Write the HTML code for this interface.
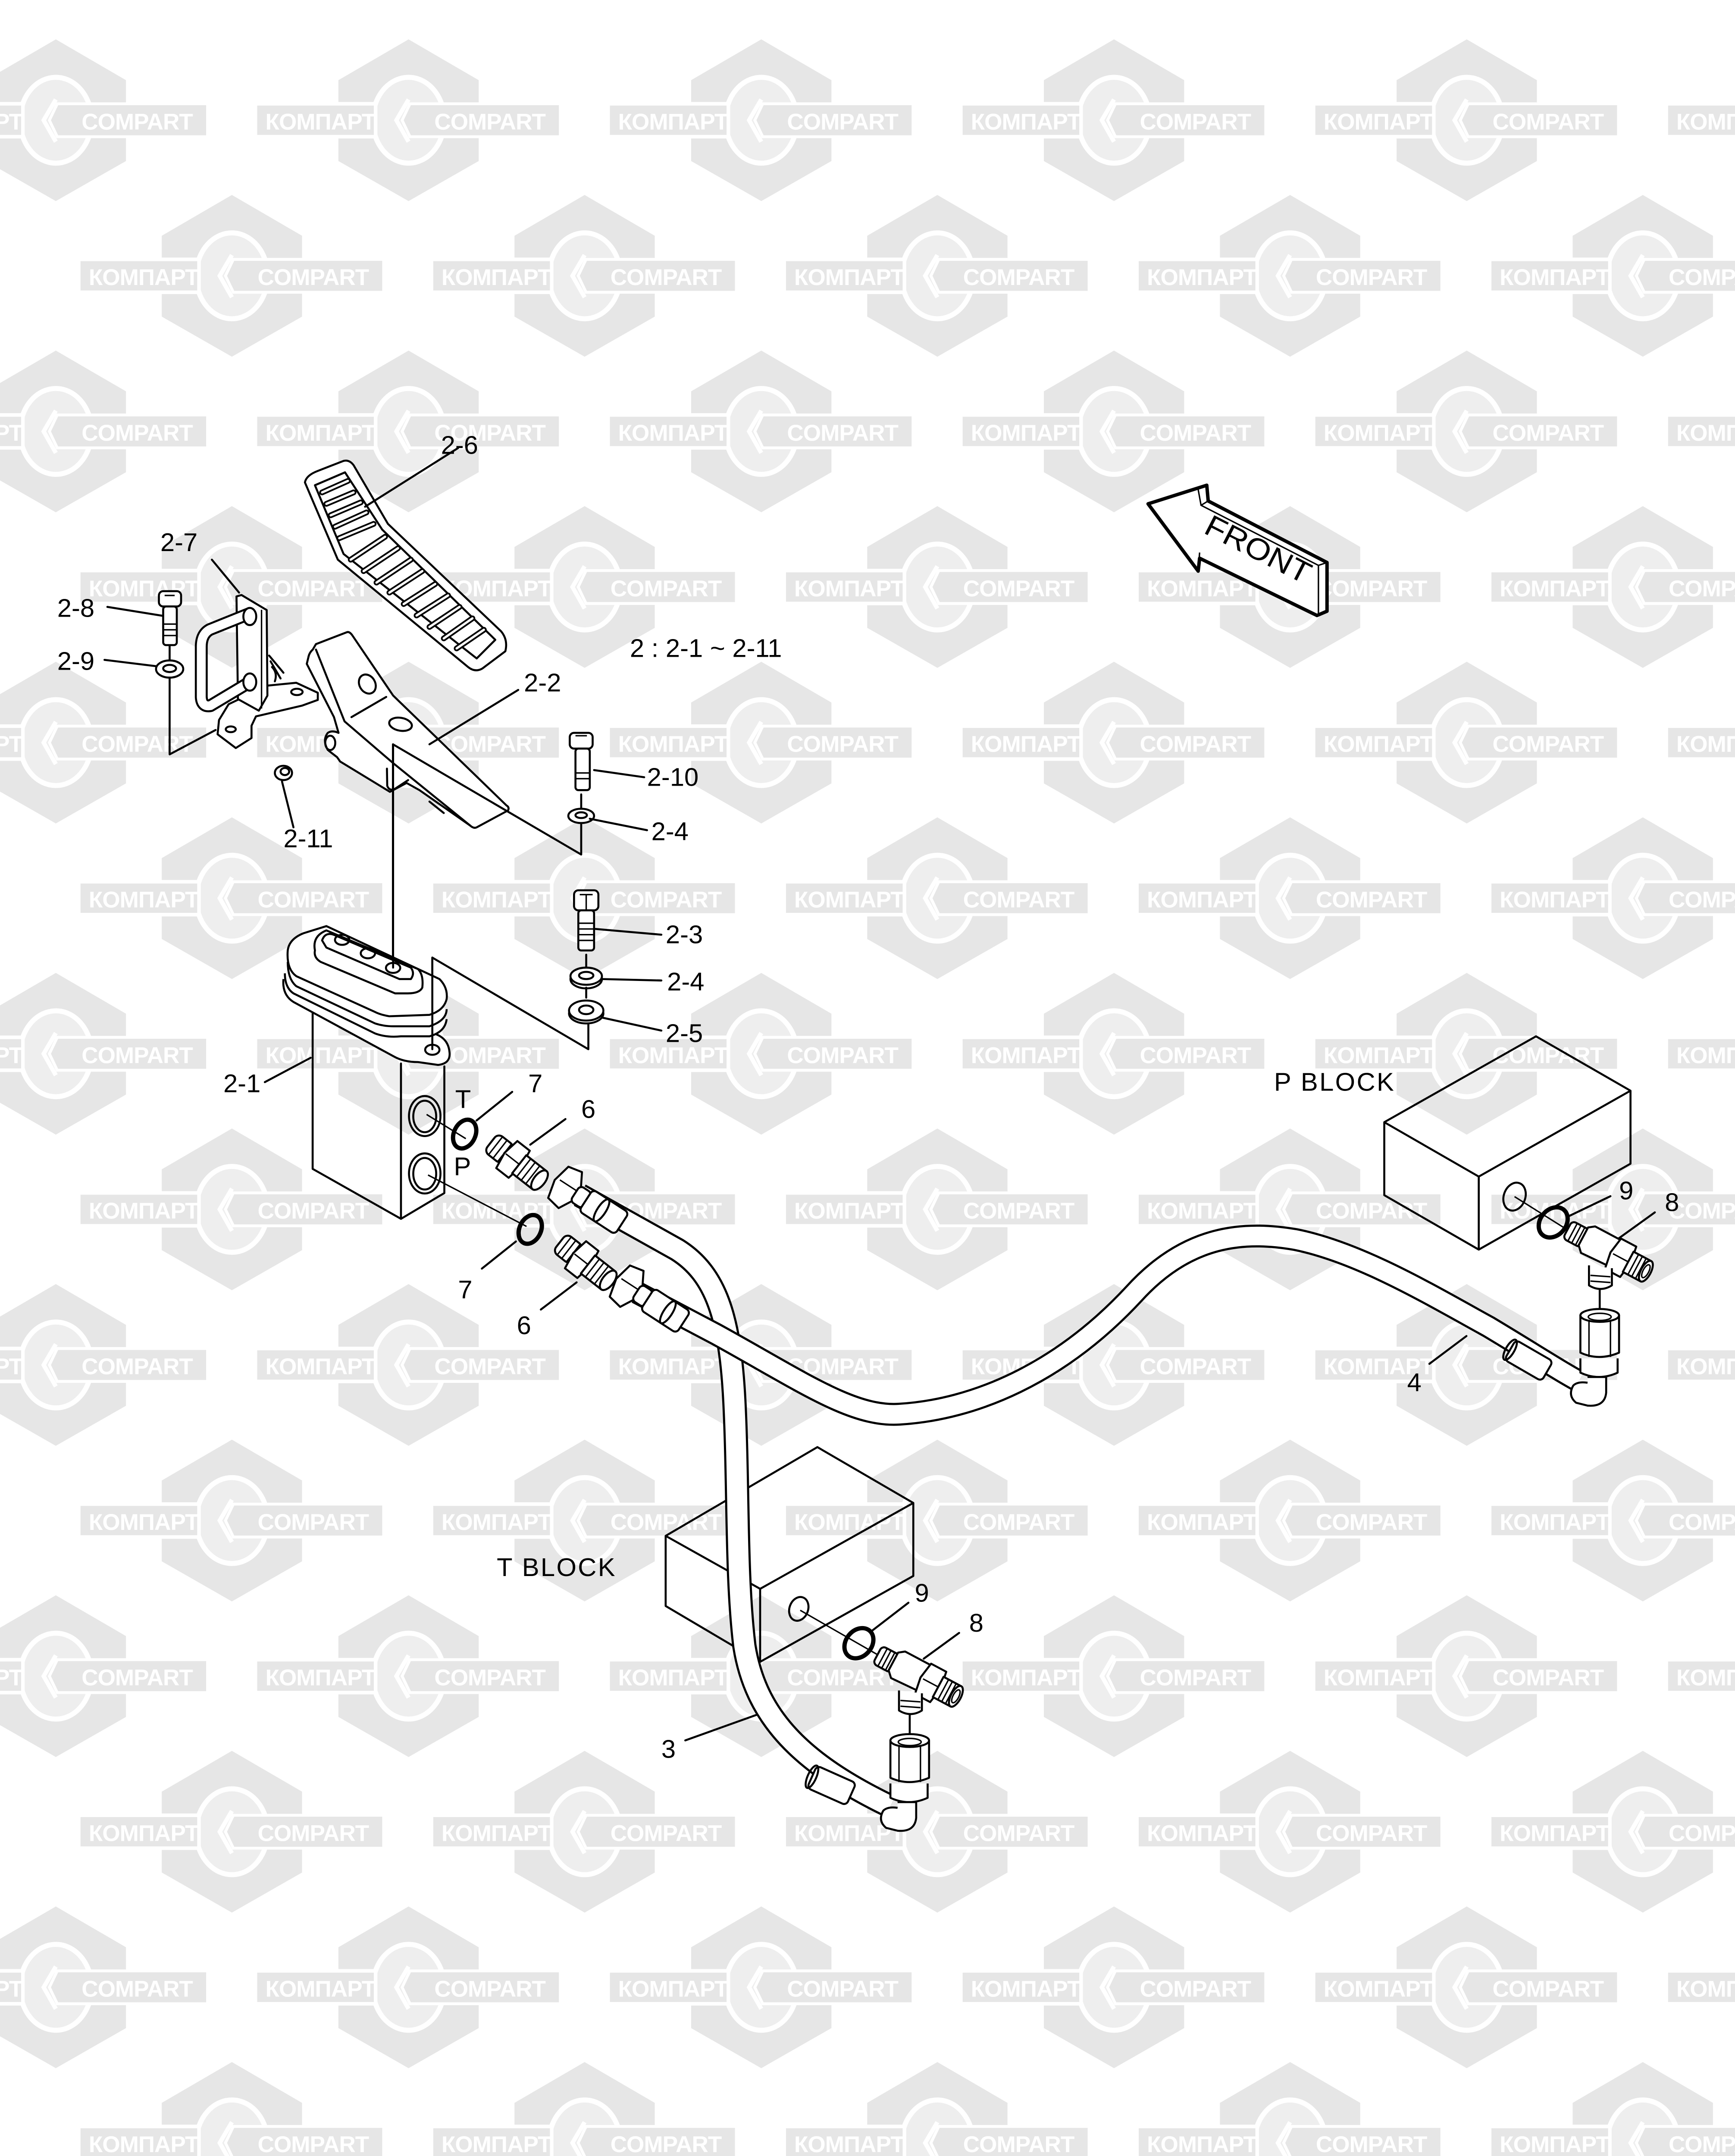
<!DOCTYPE html>
<html><head><meta charset="utf-8"><style>
html,body{margin:0;padding:0;background:#fff;width:4024px;height:5205px;overflow:hidden;}
svg{display:block;position:absolute;left:0;top:0;}
.wt{font-family:"Liberation Sans","DejaVu Sans",sans-serif;font-weight:bold;font-size:16px;letter-spacing:-0.3px;fill:#fff;}
.lb{font-family:"Liberation Sans","DejaVu Sans",sans-serif;font-size:18px;fill:#000;}
.k{fill:none;stroke:#000;stroke-width:1.4;stroke-linejoin:round;stroke-linecap:round;}
.kw{fill:#fff;stroke:#000;stroke-width:1.4;stroke-linejoin:round;}
.t{fill:none;stroke:#000;stroke-width:1;}
</style></head><body>
<svg width="4024" height="5205" viewBox="0 0 1212 1568" preserveAspectRatio="none" xmlns="http://www.w3.org/2000/svg">
<defs>
<g id="L">
<polygon points="0,-56.5 49,-28 49,28.5 0,56.5 -49,28.5 -49,-28" fill="#e6e6e6"/>
<ellipse rx="25" ry="30" fill="#eeeeee" stroke="#fff" stroke-width="3.5"/>
<rect x="-107" y="-11.5" width="84" height="23" fill="#e6e6e6" stroke="#fff" stroke-width="2.5"/>
<polygon points="1,-11.5 106,-11.5 106,11.5 1,11.5 -4.5,0" fill="#e6e6e6" stroke="#fff" stroke-width="2"/>
<polyline points="0,-14.5 -8.5,0 0,15" fill="none" stroke="#fff" stroke-width="3"/>
</g>
<g id="tee">
<g transform="translate(613,1156) rotate(28)">
<rect x="0" y="-7" width="14" height="14" rx="3" class="kw"/>
<line x1="4" y1="-7" x2="4" y2="7" class="t"/><line x1="7" y1="-7" x2="7" y2="7" class="t"/><line x1="10" y1="-7" x2="10" y2="7" class="t"/>
<polygon points="12,-8 16,-11 36,-11 38,9 16,10 12,6" class="kw"/>
<polygon points="36,-12 48,-12 50,0 48,12 36,12 34,0" class="kw"/>
<line x1="36" y1="0" x2="48" y2="0" class="t"/>
<rect x="48" y="-8" width="14" height="16" class="kw"/>
<line x1="52" y1="-8" x2="52" y2="8" class="t"/><line x1="55" y1="-8" x2="55" y2="8" class="t"/><line x1="58" y1="-8" x2="58" y2="8" class="t"/>
<ellipse cx="62" cy="0" rx="3.5" ry="8" class="kw"/><ellipse cx="62" cy="0" rx="2" ry="5" class="t"/>
</g>
<path d="M628,1181 L628,1195 Q636,1200 644,1195 L644,1183" class="kw"/>
<line x1="629" y1="1188" x2="643" y2="1189" class="t"/><line x1="629" y1="1192" x2="643" y2="1193" class="t"/>
<line x1="635.5" y1="1198" x2="635.5" y2="1214" class="k"/>
<path d="M622,1216 L622,1242 Q635,1248 649,1242 L649,1216 Z" class="kw"/>
<ellipse cx="635.5" cy="1216" rx="13.5" ry="4.5" class="kw"/><ellipse cx="635.5" cy="1217" rx="8" ry="2.5" class="t"/>
<line x1="628" y1="1219" x2="628" y2="1245" class="t"/><line x1="643" y1="1219" x2="643" y2="1245" class="t"/>
<path d="M622,1246 L622,1256 Q635,1262 648,1256 L648,1246" class="kw"/>
<path d="M627,1259 L640,1259 L640,1270 Q639,1280 627,1279 L619,1277 Q613,1272 617,1265 Q620,1262 627,1263" class="kw"/>
</g>
</defs>

<g>
<use href="#L" x="39" y="84"/><use href="#L" x="285.4" y="84"/><use href="#L" x="531.8" y="84"/><use href="#L" x="778.2" y="84"/><use href="#L" x="1024.6" y="84"/><use href="#L" x="1271" y="84"/>
<use href="#L" x="162" y="192.7"/><use href="#L" x="408.4" y="192.7"/><use href="#L" x="654.8" y="192.7"/><use href="#L" x="901.2" y="192.7"/><use href="#L" x="1147.6" y="192.7"/>
<use href="#L" x="39" y="301.4"/><use href="#L" x="285.4" y="301.4"/><use href="#L" x="531.8" y="301.4"/><use href="#L" x="778.2" y="301.4"/><use href="#L" x="1024.6" y="301.4"/><use href="#L" x="1271" y="301.4"/>
<use href="#L" x="162" y="410.1"/><use href="#L" x="408.4" y="410.1"/><use href="#L" x="654.8" y="410.1"/><use href="#L" x="901.2" y="410.1"/><use href="#L" x="1147.6" y="410.1"/>
<use href="#L" x="39" y="518.8"/><use href="#L" x="285.4" y="518.8"/><use href="#L" x="531.8" y="518.8"/><use href="#L" x="778.2" y="518.8"/><use href="#L" x="1024.6" y="518.8"/><use href="#L" x="1271" y="518.8"/>
<use href="#L" x="162" y="627.5"/><use href="#L" x="408.4" y="627.5"/><use href="#L" x="654.8" y="627.5"/><use href="#L" x="901.2" y="627.5"/><use href="#L" x="1147.6" y="627.5"/>
<use href="#L" x="39" y="736.2"/><use href="#L" x="285.4" y="736.2"/><use href="#L" x="531.8" y="736.2"/><use href="#L" x="778.2" y="736.2"/><use href="#L" x="1024.6" y="736.2"/><use href="#L" x="1271" y="736.2"/>
<use href="#L" x="162" y="844.9"/><use href="#L" x="408.4" y="844.9"/><use href="#L" x="654.8" y="844.9"/><use href="#L" x="901.2" y="844.9"/><use href="#L" x="1147.6" y="844.9"/>
<use href="#L" x="39" y="953.6"/><use href="#L" x="285.4" y="953.6"/><use href="#L" x="531.8" y="953.6"/><use href="#L" x="778.2" y="953.6"/><use href="#L" x="1024.6" y="953.6"/><use href="#L" x="1271" y="953.6"/>
<use href="#L" x="162" y="1062.3"/><use href="#L" x="408.4" y="1062.3"/><use href="#L" x="654.8" y="1062.3"/><use href="#L" x="901.2" y="1062.3"/><use href="#L" x="1147.6" y="1062.3"/>
<use href="#L" x="39" y="1171"/><use href="#L" x="285.4" y="1171"/><use href="#L" x="531.8" y="1171"/><use href="#L" x="778.2" y="1171"/><use href="#L" x="1024.6" y="1171"/><use href="#L" x="1271" y="1171"/>
<use href="#L" x="162" y="1279.7"/><use href="#L" x="408.4" y="1279.7"/><use href="#L" x="654.8" y="1279.7"/><use href="#L" x="901.2" y="1279.7"/><use href="#L" x="1147.6" y="1279.7"/>
<use href="#L" x="39" y="1388.4"/><use href="#L" x="285.4" y="1388.4"/><use href="#L" x="531.8" y="1388.4"/><use href="#L" x="778.2" y="1388.4"/><use href="#L" x="1024.6" y="1388.4"/><use href="#L" x="1271" y="1388.4"/>
<use href="#L" x="162" y="1497.1"/><use href="#L" x="408.4" y="1497.1"/><use href="#L" x="654.8" y="1497.1"/><use href="#L" x="901.2" y="1497.1"/><use href="#L" x="1147.6" y="1497.1"/>
</g>
<g class="wt">
<text y="90.5"><tspan x="-61">КОМПАРТ</tspan><tspan x="57">COMPART</tspan><tspan x="185.4">КОМПАРТ</tspan><tspan x="303.4">COMPART</tspan><tspan x="431.8">КОМПАРТ</tspan><tspan x="549.8">COMPART</tspan><tspan x="678.2">КОМПАРТ</tspan><tspan x="796.2">COMPART</tspan><tspan x="924.6">КОМПАРТ</tspan><tspan x="1042.6">COMPART</tspan><tspan x="1171">КОМПАРТ</tspan></text>
<text y="199.2"><tspan x="62">КОМПАРТ</tspan><tspan x="180">COMPART</tspan><tspan x="308.4">КОМПАРТ</tspan><tspan x="426.4">COMPART</tspan><tspan x="554.8">КОМПАРТ</tspan><tspan x="672.8">COMPART</tspan><tspan x="801.2">КОМПАРТ</tspan><tspan x="919.2">COMPART</tspan><tspan x="1047.6">КОМПАРТ</tspan><tspan x="1165.6">COMPART</tspan></text>
<text y="307.9"><tspan x="-61">КОМПАРТ</tspan><tspan x="57">COMPART</tspan><tspan x="185.4">КОМПАРТ</tspan><tspan x="303.4">COMPART</tspan><tspan x="431.8">КОМПАРТ</tspan><tspan x="549.8">COMPART</tspan><tspan x="678.2">КОМПАРТ</tspan><tspan x="796.2">COMPART</tspan><tspan x="924.6">КОМПАРТ</tspan><tspan x="1042.6">COMPART</tspan><tspan x="1171">КОМПАРТ</tspan></text>
<text y="416.6"><tspan x="62">КОМПАРТ</tspan><tspan x="180">COMPART</tspan><tspan x="308.4">КОМПАРТ</tspan><tspan x="426.4">COMPART</tspan><tspan x="554.8">КОМПАРТ</tspan><tspan x="672.8">COMPART</tspan><tspan x="801.2">КОМПАРТ</tspan><tspan x="919.2">COMPART</tspan><tspan x="1047.6">КОМПАРТ</tspan><tspan x="1165.6">COMPART</tspan></text>
<text y="525.3"><tspan x="-61">КОМПАРТ</tspan><tspan x="57">COMPART</tspan><tspan x="185.4">КОМПАРТ</tspan><tspan x="303.4">COMPART</tspan><tspan x="431.8">КОМПАРТ</tspan><tspan x="549.8">COMPART</tspan><tspan x="678.2">КОМПАРТ</tspan><tspan x="796.2">COMPART</tspan><tspan x="924.6">КОМПАРТ</tspan><tspan x="1042.6">COMPART</tspan><tspan x="1171">КОМПАРТ</tspan></text>
<text y="634"><tspan x="62">КОМПАРТ</tspan><tspan x="180">COMPART</tspan><tspan x="308.4">КОМПАРТ</tspan><tspan x="426.4">COMPART</tspan><tspan x="554.8">КОМПАРТ</tspan><tspan x="672.8">COMPART</tspan><tspan x="801.2">КОМПАРТ</tspan><tspan x="919.2">COMPART</tspan><tspan x="1047.6">КОМПАРТ</tspan><tspan x="1165.6">COMPART</tspan></text>
<text y="742.7"><tspan x="-61">КОМПАРТ</tspan><tspan x="57">COMPART</tspan><tspan x="185.4">КОМПАРТ</tspan><tspan x="303.4">COMPART</tspan><tspan x="431.8">КОМПАРТ</tspan><tspan x="549.8">COMPART</tspan><tspan x="678.2">КОМПАРТ</tspan><tspan x="796.2">COMPART</tspan><tspan x="924.6">КОМПАРТ</tspan><tspan x="1042.6">COMPART</tspan><tspan x="1171">КОМПАРТ</tspan></text>
<text y="851.4"><tspan x="62">КОМПАРТ</tspan><tspan x="180">COMPART</tspan><tspan x="308.4">КОМПАРТ</tspan><tspan x="426.4">COMPART</tspan><tspan x="554.8">КОМПАРТ</tspan><tspan x="672.8">COMPART</tspan><tspan x="801.2">КОМПАРТ</tspan><tspan x="919.2">COMPART</tspan><tspan x="1047.6">КОМПАРТ</tspan><tspan x="1165.6">COMPART</tspan></text>
<text y="960.1"><tspan x="-61">КОМПАРТ</tspan><tspan x="57">COMPART</tspan><tspan x="185.4">КОМПАРТ</tspan><tspan x="303.4">COMPART</tspan><tspan x="431.8">КОМПАРТ</tspan><tspan x="549.8">COMPART</tspan><tspan x="678.2">КОМПАРТ</tspan><tspan x="796.2">COMPART</tspan><tspan x="924.6">КОМПАРТ</tspan><tspan x="1042.6">COMPART</tspan><tspan x="1171">КОМПАРТ</tspan></text>
<text y="1068.8"><tspan x="62">КОМПАРТ</tspan><tspan x="180">COMPART</tspan><tspan x="308.4">КОМПАРТ</tspan><tspan x="426.4">COMPART</tspan><tspan x="554.8">КОМПАРТ</tspan><tspan x="672.8">COMPART</tspan><tspan x="801.2">КОМПАРТ</tspan><tspan x="919.2">COMPART</tspan><tspan x="1047.6">КОМПАРТ</tspan><tspan x="1165.6">COMPART</tspan></text>
<text y="1177.5"><tspan x="-61">КОМПАРТ</tspan><tspan x="57">COMPART</tspan><tspan x="185.4">КОМПАРТ</tspan><tspan x="303.4">COMPART</tspan><tspan x="431.8">КОМПАРТ</tspan><tspan x="549.8">COMPART</tspan><tspan x="678.2">КОМПАРТ</tspan><tspan x="796.2">COMPART</tspan><tspan x="924.6">КОМПАРТ</tspan><tspan x="1042.6">COMPART</tspan><tspan x="1171">КОМПАРТ</tspan></text>
<text y="1286.2"><tspan x="62">КОМПАРТ</tspan><tspan x="180">COMPART</tspan><tspan x="308.4">КОМПАРТ</tspan><tspan x="426.4">COMPART</tspan><tspan x="554.8">КОМПАРТ</tspan><tspan x="672.8">COMPART</tspan><tspan x="801.2">КОМПАРТ</tspan><tspan x="919.2">COMPART</tspan><tspan x="1047.6">КОМПАРТ</tspan><tspan x="1165.6">COMPART</tspan></text>
<text y="1394.9"><tspan x="-61">КОМПАРТ</tspan><tspan x="57">COMPART</tspan><tspan x="185.4">КОМПАРТ</tspan><tspan x="303.4">COMPART</tspan><tspan x="431.8">КОМПАРТ</tspan><tspan x="549.8">COMPART</tspan><tspan x="678.2">КОМПАРТ</tspan><tspan x="796.2">COMPART</tspan><tspan x="924.6">КОМПАРТ</tspan><tspan x="1042.6">COMPART</tspan><tspan x="1171">КОМПАРТ</tspan></text>
<text y="1503.6"><tspan x="62">КОМПАРТ</tspan><tspan x="180">COMPART</tspan><tspan x="308.4">КОМПАРТ</tspan><tspan x="426.4">COMPART</tspan><tspan x="554.8">КОМПАРТ</tspan><tspan x="672.8">COMPART</tspan><tspan x="801.2">КОМПАРТ</tspan><tspan x="919.2">COMPART</tspan><tspan x="1047.6">КОМПАРТ</tspan><tspan x="1165.6">COMPART</tspan></text>
</g>

<path d="M802,352 L843,339 L844,350 L927,393 L927,427 L920,430 L838,390 L837,399 Z" fill="#fff" stroke="#000" stroke-width="2.4" stroke-linejoin="round"/>
<path d="M837,342 L839,353 L921,395 L921,430 M839,353 L844,350 M921,395 L927,393 M838,386 L837,399" class="t"/>
<text x="840" y="372" transform="rotate(27 840 372)" class="lb" style="font-size:21px" textLength="80" lengthAdjust="spacingAndGlyphs">FRONT</text>

<path d="M213,337 Q214,332 222,329 L240,322 Q244,321 247,325 L271,366 L350,441 Q355,447 353,455 L337,467 Q332,470 327,466 L236,391 Z" class="kw"/>
<path d="M220,339 L241,330 L267,370 L346,447 L333,460 L240,387 Z" class="k"/>
<g stroke="#000" stroke-width="4" stroke-linecap="round">
<line x1="225" y1="344" x2="243" y2="336"/><line x1="228" y1="352" x2="247" y2="344"/><line x1="231" y1="360" x2="252" y2="351"/><line x1="234" y1="368" x2="256" y2="358"/><line x1="237" y1="376" x2="261" y2="366"/>
<line x1="245" y1="391" x2="269" y2="375"/><line x1="254" y1="399" x2="278" y2="383"/><line x1="263" y1="407" x2="287" y2="391"/><line x1="272" y1="414" x2="295" y2="399"/><line x1="282" y1="422" x2="304" y2="408"/><line x1="291" y1="430" x2="313" y2="416"/><line x1="300" y1="438" x2="321" y2="424"/><line x1="310" y1="446" x2="330" y2="432"/><line x1="319" y1="453" x2="338" y2="440"/>
</g>
<g stroke="#fff" stroke-width="1.6" stroke-linecap="round">
<line x1="225" y1="344" x2="243" y2="336"/><line x1="228" y1="352" x2="247" y2="344"/><line x1="231" y1="360" x2="252" y2="351"/><line x1="234" y1="368" x2="256" y2="358"/><line x1="237" y1="376" x2="261" y2="366"/>
<line x1="245" y1="391" x2="269" y2="375"/><line x1="254" y1="399" x2="278" y2="383"/><line x1="263" y1="407" x2="287" y2="391"/><line x1="272" y1="414" x2="295" y2="399"/><line x1="282" y1="422" x2="304" y2="408"/><line x1="291" y1="430" x2="313" y2="416"/><line x1="300" y1="438" x2="321" y2="424"/><line x1="310" y1="446" x2="330" y2="432"/><line x1="319" y1="453" x2="338" y2="440"/>
</g>

<path d="M218.5,453.8 Q216,456 215.4,459.3 L214.3,463.8 L233.3,501 L236.5,512 Q232,510 229,512 Q225,517 229,524 L235.5,529 L237.6,532 L272.4,553.2 L284,547 L293,552 L328.5,576.8 Q331,579 333,578 L354.9,566.2 Q356,564 353.8,562.7 L274.6,485.9 L246,443.7 Q244,441 242.3,441.7 L220.7,450 Z" class="kw"/>
<path d="M220.7,453.8 L240.7,504 L274.6,533.1 L328.5,576.8" class="k"/>
<ellipse cx="256.6" cy="477.9" rx="5.5" ry="7" transform="rotate(-30 256.6 477.9)" class="k"/>
<ellipse cx="279.8" cy="506" rx="8" ry="4.5" transform="rotate(10 279.8 506)" class="k"/>
<line x1="245.5" y1="501" x2="269.8" y2="486.9" class="k"/>
<ellipse cx="230.7" cy="519" rx="3.5" ry="5" class="k"/>
<path d="M270.3,537 L270.5,549 Q272,553 276,551 L285.1,545" class="k"/>
<path d="M300,560 L310,568" class="k"/>

<path d="M153,503 L152,513 L164.7,522.6 L175.7,515.6 L175.7,507 L178.8,500.5 L210.9,493 L222,489 L222,484 L206.9,477 L186.8,479 L159.7,492 Z" class="kw"/>
<ellipse cx="207.4" cy="483.4" rx="4" ry="2.2" class="k"/><ellipse cx="161.2" cy="509.5" rx="3.5" ry="2" class="k"/>
<path d="M165.2,416.7 L168.7,415.7 L186.3,426.2 L186.8,486 L180.8,496.5 L166.2,488.4 Z" class="kw"/>
<path d="M182.7,426 L182.7,495" class="t"/>
<path d="M174.2,428.7 L146.6,439.8 Q140.6,443 140.6,451.8 L140.6,487 Q141,494 147,493 L173.7,477" fill="none" stroke="#000" stroke-width="9" stroke-linecap="round" stroke-linejoin="round"/>
<path d="M174.2,428.7 L146.6,439.8 Q140.6,443 140.6,451.8 L140.6,487 Q141,494 147,493 L173.7,477" fill="none" stroke="#fff" stroke-width="6.2" stroke-linecap="round" stroke-linejoin="round"/>
<ellipse cx="174.5" cy="430.7" rx="4.5" ry="6" class="kw"/><ellipse cx="174.5" cy="476.5" rx="4.5" ry="6" class="kw"/>
<path d="M188,458 L198,470 M189,462 L196,474 M190,466 Q194,470 192,476" class="k"/>

<rect x="111" y="413" width="15.5" height="10.7" rx="3" class="kw"/>
<line x1="115" y1="416" x2="122" y2="416" class="t"/>
<rect x="114" y="423.7" width="9.5" height="27" rx="2" class="kw"/>
<line x1="114" y1="436" x2="123.5" y2="436" class="t"/><line x1="114" y1="440" x2="123.5" y2="440" class="t"/><line x1="114" y1="444" x2="123.5" y2="444" class="t"/>
<line x1="118.5" y1="451" x2="118.5" y2="461" class="k"/>
<ellipse cx="118.5" cy="467.4" rx="9.5" ry="6" class="kw"/><ellipse cx="118.5" cy="467" rx="4.5" ry="2.5" class="k"/>
<polyline points="118.5,473.4 118.5,527 150.6,510" class="k"/>

<ellipse cx="198" cy="540" rx="6" ry="5" class="kw"/><ellipse cx="199" cy="539" rx="3" ry="2.5" class="k"/>

<rect x="398" y="512" width="16" height="11" rx="3" class="kw"/>
<line x1="402" y1="514" x2="410" y2="514" class="t"/>
<rect x="402" y="523" width="10" height="29" rx="2" class="kw"/>
<line x1="402" y1="540" x2="412" y2="540" class="t"/><line x1="402" y1="544" x2="412" y2="544" class="t"/>
<line x1="406" y1="555" x2="406" y2="565" class="k"/>
<ellipse cx="406" cy="570" rx="9" ry="5" class="kw"/><ellipse cx="406" cy="569.5" rx="4" ry="2" class="k"/>
<polyline points="406,575 406,597 274.5,520 274.5,676" class="k"/>

<rect x="401" y="622" width="17" height="14" rx="3" class="kw"/>
<line x1="405" y1="625" x2="414" y2="625" class="t"/><line x1="409.5" y1="625" x2="409.5" y2="636" class="t"/>
<rect x="404" y="636" width="11" height="28" rx="2" class="kw"/>
<line x1="404" y1="645" x2="415" y2="645" class="t"/><line x1="404" y1="649" x2="415" y2="649" class="t"/><line x1="404" y1="653" x2="415" y2="653" class="t"/><line x1="404" y1="657" x2="415" y2="657" class="t"/>
<line x1="409.5" y1="667" x2="409.5" y2="676" class="k"/>
<ellipse cx="409.5" cy="684" rx="11" ry="6.5" class="kw"/><ellipse cx="409.5" cy="682" rx="11" ry="6" class="kw"/><ellipse cx="409.5" cy="681.5" rx="5" ry="2.5" class="k"/>
<line x1="409.5" y1="690" x2="409.5" y2="697" class="k"/>
<ellipse cx="409.5" cy="708" rx="12" ry="7" class="kw"/><ellipse cx="409.5" cy="706" rx="12" ry="7" class="kw"/><ellipse cx="409.5" cy="705.5" rx="5" ry="3" class="k"/>
<polyline points="411,715 411,733 302,669 302,733" class="k"/>

<path d="M218.4,707 L218.4,816.6 L280.1,851.5 L310.4,833.5 L310.4,745" class="k"/>
<line x1="280.1" y1="743" x2="280.1" y2="851.5" class="k"/>
<path d="M198,684 Q197,695 205,700 L275,738 Q282,742 292,742 L306,744 Q315,743 314,735 Q313,725 303,722" class="kw"/>
<path d="M199,680 Q199,690 205,694 L262,722 Q270,725 280,724 L300,724 Q311,721 312,712" class="kw"/>
<path d="M201,672 Q201,684 207,689 L262,715 Q268,717 275,717 L300,717 Q312,713 312,705" class="kw"/>
<path d="M201,664 Q202,656 212,652 L228,647 L307,684 Q313,690 312,698 Q310,706 300,709 L272,710 Q266,709 262,707 L207,682 Q200,677 201,664 Z" class="kw"/>
<path d="M220,664 Q218,654 228,650 L292,677 Q296,681 295,690 Q293,694 285,694 L276,694 L224,672 Q219,669 220,664 Z" class="kw"/>
<path d="M225,657 Q227,651 233,653 L287,676 Q290,680 287,684 L279,684 L228,662 Z" class="k"/>
<ellipse cx="239" cy="656.6" rx="5" ry="3.5" class="k"/><ellipse cx="257" cy="666" rx="5" ry="3.5" class="k"/><ellipse cx="274.6" cy="676.2" rx="5" ry="3.5" class="k"/>
<ellipse cx="302" cy="733.4" rx="5" ry="3.5" class="kw"/>
<line x1="302" y1="669" x2="302" y2="733" class="k"/>
<line x1="274.6" y1="520" x2="274.6" y2="676" class="k"/>
<ellipse cx="296.7" cy="779.7" rx="11" ry="14" class="k"/><ellipse cx="296.7" cy="780" rx="8" ry="11" class="k"/>
<ellipse cx="296.7" cy="819.8" rx="11" ry="14" class="k"/><ellipse cx="296.7" cy="820" rx="8" ry="11" class="k"/>
<line x1="298" y1="778.6" x2="325.4" y2="795.5" class="t"/>
<line x1="299" y1="820.9" x2="367.8" y2="856.8" class="t"/>

<ellipse cx="324.6" cy="792.3" rx="7.5" ry="10.5" transform="rotate(25 324.6 792.3)" fill="none" stroke="#000" stroke-width="3"/>
<ellipse cx="370.4" cy="858.9" rx="7.5" ry="10.5" transform="rotate(25 370.4 858.9)" fill="none" stroke="#000" stroke-width="3"/>

<g transform="translate(343,798) rotate(38)">
<rect x="0" y="-8" width="15" height="16" rx="4" class="kw"/>
<line x1="4" y1="-8" x2="4" y2="8" class="t"/><line x1="8" y1="-8" x2="8" y2="8" class="t"/><line x1="12" y1="-8" x2="12" y2="8" class="t"/>
<polygon points="14,-12 25,-12 27,0 25,12 14,12 12,0" class="kw"/>
<line x1="13" y1="0" x2="26" y2="0" class="t"/>
<rect x="25" y="-8" width="18" height="16" class="kw"/>
<line x1="29" y1="-8" x2="29" y2="8" class="t"/><line x1="33" y1="-8" x2="33" y2="8" class="t"/><line x1="37" y1="-8" x2="37" y2="8" class="t"/>
<ellipse cx="43" cy="0" rx="4" ry="8" class="kw"/>
</g>
<g transform="translate(391,868) rotate(38)">
<rect x="0" y="-8" width="15" height="16" rx="4" class="kw"/>
<line x1="4" y1="-8" x2="4" y2="8" class="t"/><line x1="8" y1="-8" x2="8" y2="8" class="t"/><line x1="12" y1="-8" x2="12" y2="8" class="t"/>
<polygon points="14,-12 25,-12 27,0 25,12 14,12 12,0" class="kw"/>
<line x1="13" y1="0" x2="26" y2="0" class="t"/>
<rect x="25" y="-8" width="18" height="16" class="kw"/>
<line x1="29" y1="-8" x2="29" y2="8" class="t"/><line x1="33" y1="-8" x2="33" y2="8" class="t"/><line x1="37" y1="-8" x2="37" y2="8" class="t"/>
<ellipse cx="43" cy="0" rx="4" ry="8" class="kw"/>
</g>

<path d="M967,784 L1073,724 L1139,762 L1139,813 L1033,873 L967,835 Z M967,784 L1033,822 L1139,762 M1033,822 L1033,873" class="k"/>
<ellipse cx="1058" cy="836" rx="7.5" ry="10" transform="rotate(20 1058 836)" class="k"/>
<line x1="1058" y1="836" x2="1093" y2="858" class="t"/>
<path d="M465,1073 L571,1011 L638,1050 L638,1101 L531,1161 L465,1122 Z M465,1073 L531,1110 L638,1050 M531,1110 L531,1161" class="k"/>
<ellipse cx="558" cy="1124" rx="6.5" ry="8.5" transform="rotate(20 558 1124)" class="k"/>
<line x1="559" y1="1125" x2="613" y2="1156" class="t"/>

<path d="M405,835 L473,873 C500,890 510,920 513,979 C516,1040 514,1100 520,1150 C528,1200 560,1232 622,1262" fill="none" stroke="#000" stroke-width="17"/>
<path d="M405,835 L473,873 C500,890 510,920 513,979 C516,1040 514,1100 520,1150 C528,1200 560,1232 622,1262" fill="none" stroke="#fff" stroke-width="14"/>
<path d="M445,903 L500,932 C560,965 595,990 628,988 C680,985 740,960 792,904 C830,862 870,860 905,866 C950,875 1000,905 1040,927 C1070,945 1090,958 1103,965" fill="none" stroke="#000" stroke-width="16"/>
<path d="M445,903 L500,932 C560,965 595,990 628,988 C680,985 740,960 792,904 C830,862 870,860 905,866 C950,875 1000,905 1040,927 C1070,945 1090,958 1103,965" fill="none" stroke="#fff" stroke-width="13"/>
<g transform="translate(580,1247) rotate(24)"><rect x="-14" y="-8.5" width="30" height="17" rx="3" class="kw"/><ellipse cx="-14" cy="0" rx="3" ry="8.5" class="k"/></g>
<g transform="translate(1067,950) rotate(30)"><rect x="-14" y="-8" width="30" height="16" rx="3" class="kw"/><ellipse cx="-14" cy="0" rx="3" ry="8" class="k"/></g>
<g transform="translate(390,826) rotate(33)">
<polygon points="0,-13 10,-15 15,-6 15,6 10,15 0,13 -3,0" class="kw"/>
<line x1="0" y1="-2" x2="14" y2="-2" class="t"/>
<rect x="14" y="-6.5" width="10" height="13" rx="3" class="kw"/>
<rect x="23" y="-9" width="30" height="18" rx="3" class="kw"/>
<ellipse cx="36" cy="0" rx="3" ry="9" class="k"/>
</g>
<g transform="translate(433,895) rotate(33)">
<polygon points="0,-13 10,-15 15,-6 15,6 10,15 0,13 -3,0" class="kw"/>
<line x1="0" y1="-2" x2="14" y2="-2" class="t"/>
<rect x="14" y="-6.5" width="10" height="13" rx="3" class="kw"/>
<rect x="23" y="-9" width="30" height="18" rx="3" class="kw"/>
<ellipse cx="40" cy="0" rx="3" ry="9" class="k"/>
</g>

<ellipse cx="600" cy="1148" rx="9" ry="11.5" transform="rotate(40 600 1148)" fill="none" stroke="#000" stroke-width="3"/>
<ellipse cx="1085" cy="854" rx="9" ry="11.5" transform="rotate(40 1085 854)" fill="none" stroke="#000" stroke-width="3"/>

<use href="#tee"/>
<use href="#tee" x="482" y="-297"/>

<g class="k">
<line x1="255" y1="354" x2="320" y2="313"/>
<line x1="148" y1="391" x2="167" y2="414"/>
<line x1="75" y1="424" x2="113.5" y2="430.2"/>
<line x1="73" y1="461" x2="109" y2="465.4"/>
<line x1="300" y1="520" x2="362" y2="482"/>
<line x1="415" y1="538" x2="450" y2="543"/>
<line x1="412" y1="572" x2="452" y2="580"/>
<line x1="205" y1="578" x2="197" y2="546"/>
<line x1="416" y1="649" x2="462" y2="653"/>
<line x1="421" y1="684" x2="462" y2="685"/>
<line x1="421" y1="711" x2="462" y2="720"/>
<line x1="185" y1="756" x2="217" y2="739"/>
<line x1="357.8" y1="762.8" x2="332.9" y2="782.8"/>
<line x1="395" y1="781.8" x2="370.4" y2="799.7"/>
<line x1="360.4" y1="867.3" x2="336.6" y2="886.3"/>
<line x1="402.8" y1="895.9" x2="377.8" y2="914.9"/>
<line x1="1125" y1="835.7" x2="1096" y2="849.6"/>
<line x1="1156" y1="847" x2="1131" y2="865"/>
<line x1="1024.4" y1="933.4" x2="998.5" y2="952.8"/>
<line x1="634.6" y1="1119.7" x2="608.5" y2="1139.8"/>
<line x1="670" y1="1140.8" x2="645.3" y2="1158.8"/>
<line x1="478.7" y1="1215.9" x2="528.6" y2="1198"/>
</g>

<g class="lb">
<text x="308" y="317">2-6</text>
<text x="112" y="385">2-7</text>
<text x="40" y="431">2-8</text>
<text x="40" y="468">2-9</text>
<text x="440" y="459">2 : 2-1 ~ 2-11</text>
<text x="366" y="483">2-2</text>
<text x="452" y="549">2-10</text>
<text x="455" y="587">2-4</text>
<text x="198" y="592">2-11</text>
<text x="465" y="659">2-3</text>
<text x="466" y="692">2-4</text>
<text x="465" y="728">2-5</text>
<text x="156" y="763">2-1</text>
<text x="318" y="774">T</text>
<text x="369" y="763">7</text>
<text x="406" y="781">6</text>
<text x="317" y="821">P</text>
<text x="320" y="907">7</text>
<text x="361" y="932">6</text>
<text x="890" y="762" style="letter-spacing:1px">P  BLOCK</text>
<text x="1131" y="838">9</text>
<text x="1163" y="846">8</text>
<text x="983" y="972">4</text>
<text x="347" y="1101" style="letter-spacing:1px">T  BLOCK</text>
<text x="639" y="1119">9</text>
<text x="677" y="1140">8</text>
<text x="462" y="1228">3</text>
</g>
</svg>
</body></html>
